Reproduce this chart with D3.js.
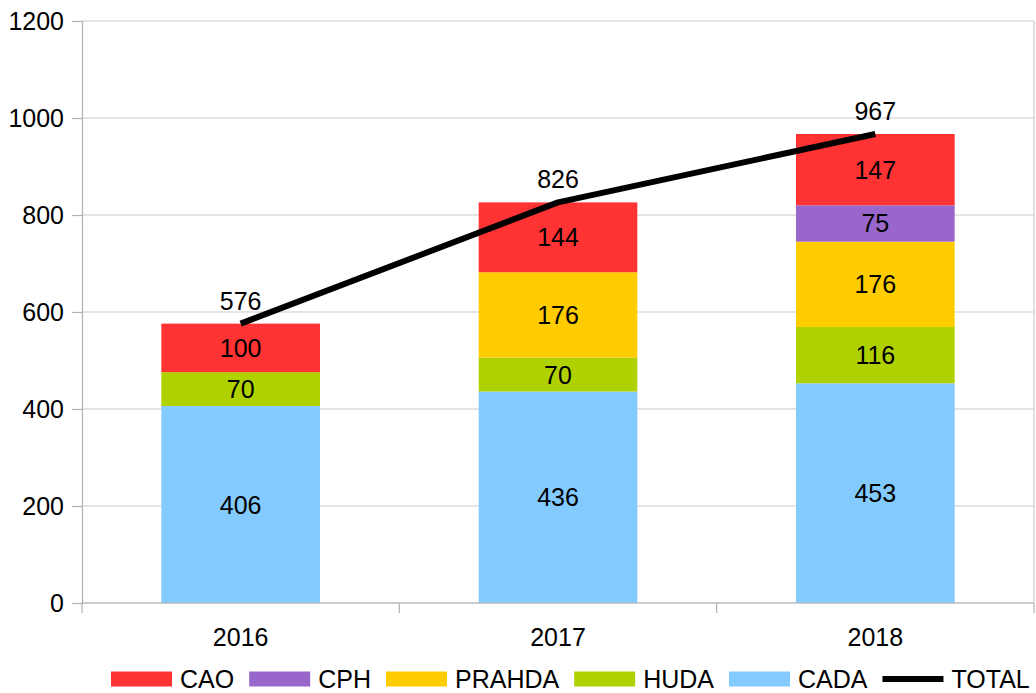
<!DOCTYPE html>
<html><head><meta charset="utf-8">
<script src="https://cdn.jsdelivr.net/npm/d3@7"></script>
<style>body{margin:0;background:#fff}text{font-family:"Liberation Sans",Arial,sans-serif}</style>
</head><body>
<svg id="c" width="1036" height="693"></svg>
<script>
const years = ["2016","2017","2018"];
const CADA = [406,436,453];
const HUDA = [70,70,116];
const PRAHDA = [0,176,176];
const CPH = [0,0,75];
const CAO = [100,144,147];
const TOTAL = [576,826,967];
const yTicks = [0,200,400,600,800,1000,1200];
const seriesNames = ["CADA","HUDA","PRAHDA","CPH","CAO"];
const seriesVals = {CADA,HUDA,PRAHDA,CPH,CAO};
const colors = {CAO:"#ff3333",CPH:"#9966cc",PRAHDA:"#ffcc00",HUDA:"#b0d100",CADA:"#83caff"};
const legendOrder = ["CAO","CPH","PRAHDA","HUDA","CADA"];

const FS = 25;
const svg = d3.select("#c");
const L=82,R=1034,T=21,B=603;
const x = d3.scaleBand().domain(years).range([L,R]).paddingInner(0.5).paddingOuter(0.25);
const xc = d3.scaleBand().domain(years).range([L,R]);
const y = d3.scaleLinear().domain([0,1200]).range([B,T]);

// gridlines
svg.append("g").selectAll("line").data(yTicks).join("line")
  .attr("x1",L).attr("x2",R).attr("y1",d=>y(d)).attr("y2",d=>y(d))
  .attr("stroke","#cccccc").attr("stroke-width",1.2);
svg.append("line").attr("x1",R).attr("x2",R).attr("y1",T).attr("y2",B).attr("stroke","#cccccc").attr("stroke-width",1.2);

// y axis
const ya = svg.append("g").attr("transform",`translate(${L},0)`)
  .call(d3.axisLeft(y).tickValues(yTicks).tickFormat(d3.format("d")).tickSize(10).tickPadding(8));
ya.select(".domain").attr("stroke","#b3b3b3").attr("stroke-width",1.2);
ya.selectAll(".tick line").attr("stroke","#b3b3b3").attr("stroke-width",1.2);
ya.selectAll("text").attr("font-size",FS).attr("fill","#000").attr("font-family","Liberation Sans, Arial, sans-serif");

// stacked bars
const data = years.map((yr,i)=>{const o={year:yr};seriesNames.forEach(s=>o[s]=seriesVals[s][i]);return o;});
const stack = d3.stack().keys(seriesNames)(data);
const gBars = svg.append("g");
stack.forEach(layer=>{
  const name = layer.key;
  gBars.selectAll(null).data(layer.filter(d=>d[1]-d[0]>0)).join("rect")
    .attr("x",d=>x(d.data.year)).attr("width",x.bandwidth())
    .attr("y",d=>y(d[1])).attr("height",d=>y(d[0])-y(d[1]))
    .attr("fill",colors[name]);
  gBars.selectAll(null).data(layer.filter(d=>d[1]-d[0]>0)).join("text")
    .attr("x",d=>x(d.data.year)+x.bandwidth()/2).attr("y",d=>(y(d[0])+y(d[1]))/2)
    .attr("text-anchor","middle").attr("dy","0.36em").attr("font-size",FS).attr("fill","#000")
    .text(d=>d[1]-d[0]);
});

// x axis
const xa = svg.append("g").attr("transform",`translate(0,${B})`);
xa.append("line").attr("x1",L).attr("x2",R).attr("stroke","#b3b3b3").attr("stroke-width",1.2);
const bounds = [L, ...years.map(yv=>xc(yv)+xc.bandwidth())];
xa.selectAll("line.t").data(bounds).join("line").attr("class","t")
  .attr("x1",d=>d).attr("x2",d=>d).attr("y1",0).attr("y2",10).attr("stroke","#b3b3b3").attr("stroke-width",1.2);
xa.selectAll("text").data(years).join("text")
  .attr("x",d=>xc(d)+xc.bandwidth()/2).attr("y",34).attr("dy","0.36em")
  .attr("text-anchor","middle").attr("font-size",FS).text(d=>d);

// total line
const line = d3.line().x((d,i)=>xc(years[i])+xc.bandwidth()/2).y(d=>y(d));
svg.append("path").datum(TOTAL).attr("d",line).attr("fill","none")
  .attr("stroke","#000").attr("stroke-width",6).attr("stroke-linejoin","round");
svg.append("g").selectAll("text").data(TOTAL).join("text")
  .attr("x",(d,i)=>xc(years[i])+xc.bandwidth()/2).attr("y",d=>y(d)-23).attr("dy","0.36em")
  .attr("text-anchor","middle").attr("font-size",FS).text(d=>d);

// legend
const lg = svg.append("g");
let cx = 111; const ly = 679;
const items = legendOrder.map(n=>({n,type:"rect"})).concat([{n:"TOTAL",type:"line"}]);
items.forEach(it=>{
  if(it.type==="rect"){
    lg.append("rect").attr("x",cx).attr("y",ly-7.5).attr("width",61).attr("height",15).attr("fill",colors[it.n]);
  } else {
    lg.append("line").attr("x1",cx).attr("x2",cx+61).attr("y1",ly).attr("y2",ly).attr("stroke","#000").attr("stroke-width",6);
  }
  const t = lg.append("text").attr("x",cx+69).attr("y",ly).attr("dy","0.36em").attr("font-size",FS).text(it.n);
  cx = cx+69+t.node().getComputedTextLength()+15;
});
</script>
</body></html>
